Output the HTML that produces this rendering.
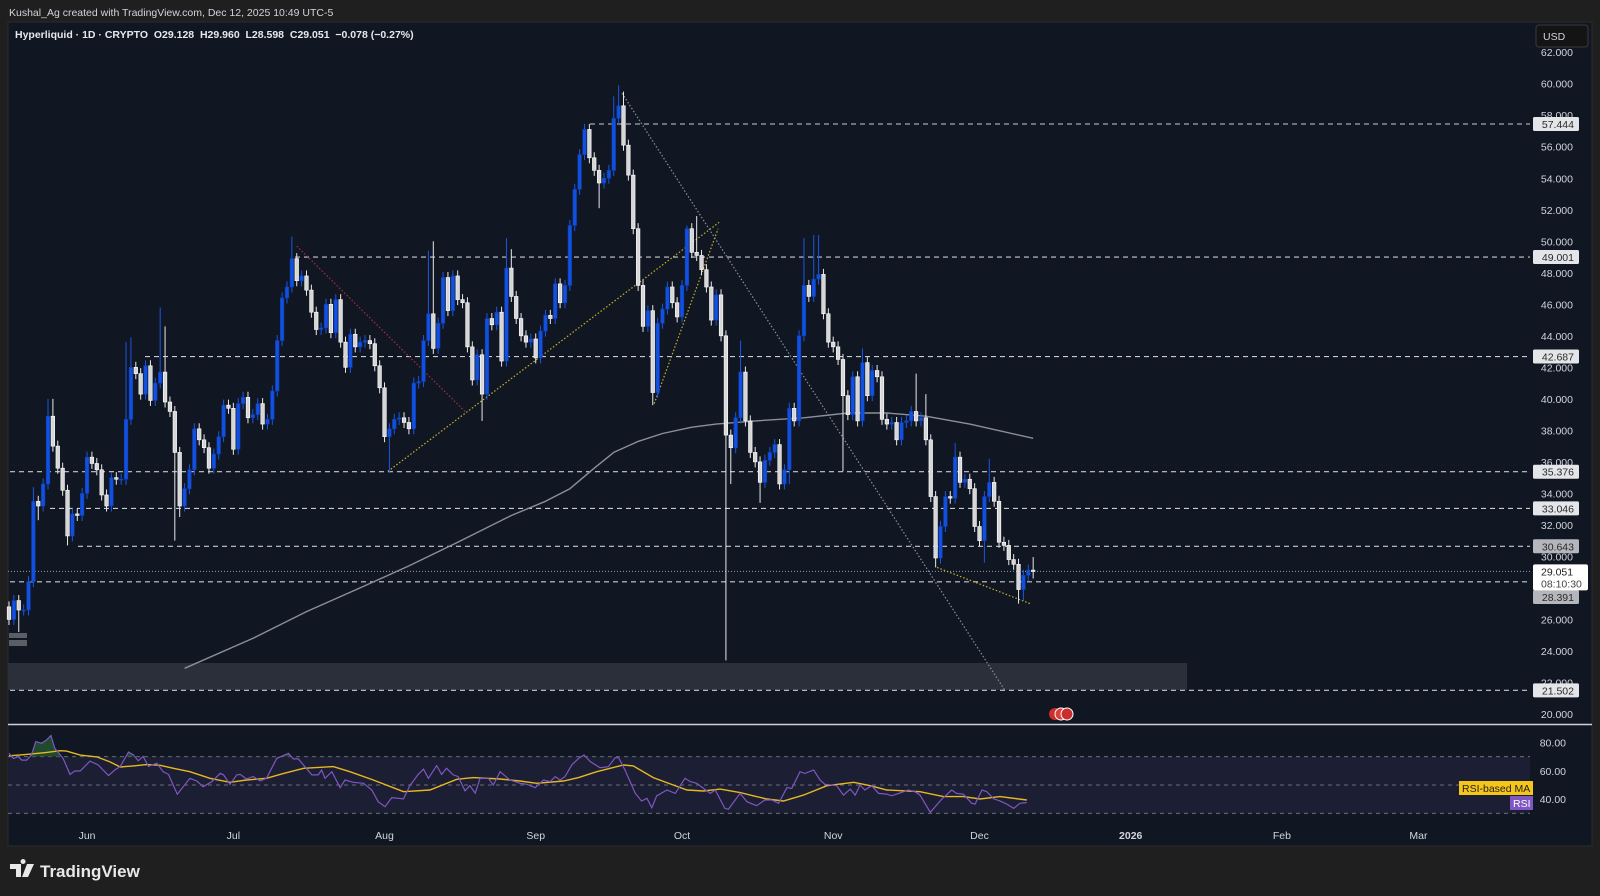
<!DOCTYPE html>
<html><head><meta charset="utf-8"><style>
html,body{margin:0;padding:0;background:#1f1f1f;width:1600px;height:896px;overflow:hidden}
svg{display:block;font-family:"Liberation Sans",sans-serif}
</style></head><body>
<svg id="chart" width="1600" height="896" viewBox="0 0 1600 896" xmlns="http://www.w3.org/2000/svg">
<rect x="0" y="0" width="1600" height="896" fill="#1f1f1f"/>
<text x="9" y="16" fill="#d1d4dc" font-size="10.5">Kushal_Ag created with TradingView.com, Dec 12, 2025 10:49 UTC-5</text>
<rect x="8" y="22" width="1584" height="824" fill="#111722" stroke="#2b2b2b"/>
<rect x="8" y="663" width="1179" height="27" fill="#2a2f3a"/>
<rect x="9" y="633" width="18" height="5" fill="#5a5e66"/>
<rect x="9" y="640" width="18" height="6" fill="#5a5e66"/>
<g id="grid"></g>
<g id="drawings"></g>
<g id="candles"></g>
<g id="axis"></g>
<g id="rsi"></g>
<text x="15" y="38" fill="#e6e8ee" font-size="10.5" font-weight="bold">Hyperliquid · 1D · CRYPTO&#160;&#160;O29.128&#160;&#160;H29.960&#160;&#160;L28.598&#160;&#160;C29.051&#160;&#160;−0.078 (−0.27%)</text>
<rect x="1536" y="25" width="52" height="22" rx="3" fill="#141414" stroke="#3a3a3a"/>
<text x="1543" y="40" fill="#d1d4dc" font-size="10.5">USD</text>
<line x1="8" y1="724.5" x2="1592" y2="724.5" stroke="#cfd2d8" stroke-width="1.5"/>
<g><circle cx="1055" cy="714" r="6" fill="#c9302c"/><circle cx="1061" cy="714" r="6" fill="#d9403a" stroke="#fff" stroke-width="1"/><circle cx="1067" cy="714" r="6" fill="#c9302c" stroke="#fff" stroke-width="1"/></g>
<g>
<path d="M10 864h11v13h-5v-8h-6z M23 864a2.5 2.5 0 1 1 0.1 0z M27 864h7l-6 13h-6z" fill="#e8e8e8"/>
<text x="40" y="877" fill="#e8e8e8" font-size="17" font-weight="bold">TradingView</text>
</g>
</svg>
<script>
// ---------- data ----------
const closes=[26.0,27.2,26.6,26.6,28.4,33.5,33.2,34.6,38.9,37.0,35.6,34.2,31.3,32.7,32.6,34.0,36.3,35.9,35.5,33.9,33.2,35.0,34.9,34.9,38.7,42.0,41.6,40.3,42.1,39.9,41.0,41.7,39.8,39.2,36.6,33.2,34.3,35.5,38.1,37.4,36.9,35.6,36.5,37.6,39.6,39.4,36.8,39.7,40.1,38.8,39.0,39.7,38.4,38.7,40.5,43.7,
46.4,47.1,48.9,47.5,47.8,46.9,45.5,44.4,44.5,46.0,44.2,46.3,43.6,42.0,44.1,43.3,43.6,43.7,43.5,42.1,40.7,37.6,38.1,38.7,38.8,38.5,38.1,41.0,41.1,43.7,45.4,43.2,44.8,47.7,45.6,47.8,46.3,46.1,43.3,41.2,42.8,40.3,45.1,44.7,45.5,42.4,48.3,46.5,45.1,44.0,43.6,43.8,42.6,44.3,45.3,
45.1,47.3,46.1,47.2,51.0,53.3,55.5,57.1,55.3,54.5,53.7,54.0,54.5,57.8,58.6,56.1,54.2,50.8,47.2,44.6,45.6,40.4,44.8,45.7,47.1,46.1,45.2,47.2,50.8,49.3,49.1,48.2,47.1,45.0,46.6,44.0,37.7,36.9,38.8,41.7,38.6,36.6,36.0,34.7,36.1,36.6,37.1,34.6,35.5,39.4,38.6,
44.0,47.2,46.5,47.6,47.9,45.4,43.6,43.3,42.5,40.2,39.0,41.4,38.6,42.3,40.2,41.8,41.4,38.7,38.4,38.5,37.4,38.5,38.6,39.2,38.6,38.8,37.4,33.8,29.9,31.9,33.8,33.7,36.3,34.7,34.9,34.3,31.9,31.0,33.8,34.7,33.5,30.9,30.7,29.8,29.5,27.9,28.8,29.13,29.051];
const firstOpen=26.8;
const highOverride={5:34.4,8:40.0,9:40.0,24:43.6,25:43.9,31:45.8,32:44.6,58:50.3,86:49.4,87:50.0,102:50.2,103:49.5,124:59.2,125:59.9,126:59.5,139:51.0,141:51.6,150:43.7,163:50.2,165:50.4,166:50.4,175:43.2,186:41.6,188:40.3,194:37.2,201:36.2,210:29.96};
const lowOverride={2:25.2,6:32.3,12:30.7,34:31.0,35:32.5,78:35.3,97:38.6,121:52.1,132:39.6,147:23.4,148:34.6,154:33.4,160:34.6,171:35.4,190:29.3,200:29.6,207:27.0,208:27.2,210:28.598};
const hLevels=[57.444,49.001,42.687,35.376,33.046,30.643,28.391,21.502];
const hLevelStart=[590,295,145,10,50,78,10,10];
const currentPrice=29.051;
const priceTicks=[62,60,58,56,54,52,50,48,46,44,42,40,38,36,34,32,30,28,26,24,22,20];
const monthLabels=["Jun","Jul","Aug","Sep","Oct","Nov","Dec","2026","Feb","Mar"];
const monthDays=[16,46,77,108,138,169,199,230,261,289];
const maDays=[36,50,61,72,82,92,103,110,115,120,124,129,134,140,145,153,163,172,180,188,197,210];
const maVals=[22.9,24.8,26.5,28.0,29.4,30.9,32.6,33.5,34.3,35.6,36.6,37.3,37.8,38.2,38.4,38.6,38.8,39.1,39.1,38.9,38.4,37.5];
const rsiDays=[0,0.9,1.9,2.6,3.6,4.6,5.5,6.7,7.7,8.6,9.4,11.1,12.5,13.5,14.6,16.6,18.3,20.4,21.7,22.8,24.5,25.5,26.5,27.5,28.6,30.3,31.6,32.7,34.5,37.1,38.5,39.8,41.6,43.3,44,45.3,46.7,47.4,48.7,50.1,51.5,52.8,54.9,57.3,58.3,59.3,62.1,63.4,64.1,64.8,66.2,67.9,68.9,70.6,72.7,74.4,75.7,77.1,78.5,80.9,82.2,83.9,85,86,87.7,88.7,89.7,91.1,92.1,93.5,94.5,95.6,96.6,98.3,99.3,100.7,102.7,104.8,106.2,107.9,109.6,111,112,113,114,115.4,116.8,117.9,119.2,121.2,122.9,124.3,125,126.3,128.4,129.7,130.8,131.8,132.8,134.9,136.6,138.6,139.7,141,142.4,143.8,144.8,146.8,147.5,149.9,151.3,153.3,155,156.4,157.8,159.5,160.5,162.2,163.2,165,166.3,167.3,168.7,169.7,171.1,172.5,173.5,174.5,175.5,176.9,178.3,180,181,182.4,184.4,185.8,186.8,188.9,191.3,193.3,194.3,195.7,197.4,198.1,199.5,200.5,201.9,203.2,204.6,206,207.3,208.7];
const rsiVals=[72.4,68.8,70,67.6,67.6,71.2,80.6,79.4,81.8,84.9,75.9,68.8,57.5,59.9,59.9,66.9,64.1,56.6,60.6,63,73.2,71.3,67.1,70.2,63.1,65.4,59.4,57.5,43.5,54.7,52.8,48.8,52.4,58.2,57.1,50.5,57.1,57.5,54.2,55.9,52.8,54.7,68.8,72.4,68.4,68.4,57.1,57.1,60.6,54.7,59.4,48.1,53.5,51.9,51.2,46.5,38.2,34.7,41.1,40.2,49.6,57.5,61.2,54.7,63.7,57.5,61.8,57.1,55.9,45.9,49.6,44.2,54.7,54.7,50,59.4,53.5,51.2,50.5,48.1,53.5,52.4,55.9,53.5,55.9,64.1,68.8,71.2,66.5,62.2,62.9,69.3,69.3,60.6,44.2,38.7,40.6,34,42.4,46.5,44.1,54.7,52.4,51.2,47.6,44.1,46.5,33.5,32.9,44.1,38.2,35.4,39.4,39.4,37.1,48.1,47.6,59.4,58.2,60.6,53.5,50.5,50,49.5,42.9,47.1,42.9,50,46.5,49.5,44.1,43.5,42.4,44.1,46.5,45.3,42.9,30.7,40.2,46.5,44.1,43.5,37.1,36.5,46.5,45.3,40.2,38.8,36.5,33.5,37.1,37.6];
const rsiMaDays=[0,3.6,7.7,10.5,11.8,14.6,18,20.7,22.8,25.5,28.2,31,33.7,37.1,41.2,45.3,48.7,52.8,56.3,60.4,66.5,69.9,74.7,80.9,86.3,91.8,95.2,100.7,104.8,108.2,113.7,116.8,120.5,126,128,132.1,136.2,139,142.4,145.8,149.9,152.6,155.4,158.8,162.9,167.7,173.2,176.6,180,186.8,191.6,195.7,199.1,203.2,208.7];
const rsiMaVals=[70.6,71.6,73,74.2,73.9,71.1,69.8,66.3,62.7,63.5,64.4,63.9,61.8,59.4,54.7,51.9,53.5,54.7,58.2,61.8,63,59.4,53.5,45.3,46.5,54,55.2,54.2,52.8,51.2,52.8,55.2,59.4,64.1,63.5,55.2,50,46.5,45.8,47.1,44.7,42.4,40.1,38.7,42.9,49.5,51.9,49.5,46.5,45.3,41.8,41.8,40.1,41.8,39.4];
const rsiTicks=[80,60,40];
const rsiBands=[70,50,30];
const trendLines=[
 {name:"red-downtrend",c:"#a0303a",p:[[59,49.7],[93.5,39.2]]},
 {name:"yellow-uptrend",c:"#c9b030",p:[[77.7,35.4],[145.6,51.2]]},
 {name:"yellow-steep-line",c:"#c9b030",p:[[132.3,39.7],[145.4,50.8]]},
 {name:"gray-downtrend",c:"#8a8f99",p:[[125.7,59.4],[204.2,21.5]]},
 {name:"yellow-dec-line",c:"#c9b030",p:[[190.3,29.3],[209.4,27.0]]}
];
// ---------- scales ----------
const NS="http://www.w3.org/2000/svg";
const xDay=d=>9+4.877*d;
const yP=v=>714-(v-20)*15.757;
const yR=v=>785-(v-50)*1.417;
function mk(tag,attrs,parent){const e=document.createElementNS(NS,tag);for(const k in attrs)e.setAttribute(k,attrs[k]);parent.appendChild(e);return e;}
const grid=document.getElementById('grid'),dr=document.getElementById('drawings'),cg=document.getElementById('candles'),ax=document.getElementById('axis'),rg=document.getElementById('rsi');
hLevels.forEach((v,i)=>{
 const l=mk('line',{x1:hLevelStart[i],x2:1530,y1:yP(v),y2:yP(v),stroke:'#c8cbd2','stroke-width':1.1,'stroke-dasharray':'5 4'},grid);
 
 
});
const cp=mk('line',{x1:8,x2:1532,y1:yP(currentPrice),y2:yP(currentPrice),stroke:'#9aa0aa','stroke-width':1,'stroke-dasharray':'1 2'},grid);


let d='';maDays.forEach((dd,i)=>{d+=(i?'L':'M')+xDay(dd).toFixed(1)+' '+yP(maVals[i]).toFixed(1);});
const ma=mk('path',{d:d,fill:'none',stroke:'#8b8f97','stroke-width':1.4,'stroke-linejoin':'round'},dr);


trendLines.forEach(t=>{
 const l=mk('line',{x1:xDay(t.p[0][0]),y1:yP(t.p[0][1]),x2:xDay(t.p[1][0]),y2:yP(t.p[1][1]),stroke:t.c,'stroke-width':1.2,'stroke-dasharray':'1.5 2'},dr);
 
 
});
closes.forEach((c,i)=>{
 const o=i?closes[i-1]:firstOpen;
 const up=c>=o;
 const hi=highOverride[i]!==undefined?highOverride[i]:Math.max(o,c)+0.35;
 const lo=lowOverride[i]!==undefined?lowOverride[i]:Math.min(o,c)-0.35;
 const x=xDay(i);
 const col=up?'#1250e0':'#d6d6d6';
 const g=mk('g',{},cg);
 
 
 mk('line',{x1:x,x2:x,y1:yP(hi),y2:yP(lo),stroke:up?'#1a55e8':'#e8e8e8','stroke-width':1},g);
 const top=yP(Math.max(o,c)),bot=yP(Math.min(o,c));
 mk('rect',{x:x-1.8,y:top,width:3.6,height:Math.max(1,bot-top),fill:col,stroke:up?'#0d3fb5':'#ffffff','stroke-width':0.6},g);
});
priceTicks.forEach(v=>{
 const t=mk('text',{x:1573,y:yP(v)+4,'text-anchor':'end',fill:'#d1d4dc','font-size':10.5},ax);
 t.textContent=v.toFixed(3);
 
 
});
hLevels.forEach(v=>{
 const dark=(v===30.643||v===28.391);
 const yy=(v===28.391)?597:yP(v);
 const g=mk('g',{},ax);
 
 
 mk('rect',{x:1533,y:yy-7,width:46,height:14,rx:1.5,fill:dark?'#b4b6bb':'#e4e5e8'},g);
 const t=mk('text',{x:1574,y:yy+4,'text-anchor':'end',fill:'#2a2a2a','font-size':10.5},g);
 t.textContent=v.toFixed(3);
});
{const g=mk('g',{},ax);
 
 
 const y=yP(currentPrice);
 mk('rect',{x:1533,y:y-7,width:55,height:26,rx:2,fill:'#ffffff'},g);
 const t1=mk('text',{x:1541,y:y+4,fill:'#222','font-size':10.5},g);t1.textContent=currentPrice.toFixed(3);
 const t2=mk('text',{x:1541,y:y+16,fill:'#444','font-size':10.5},g);t2.textContent='08:10:30';
}
monthLabels.forEach((m,i)=>{
 const t=mk('text',{x:xDay(monthDays[i]),y:839,'text-anchor':'middle',fill:'#d1d4dc','font-size':10.5,'font-weight':m==='2026'?'bold':'normal'},ax);
 t.textContent=m;
 
 
});
const band=mk('rect',{x:8,y:yR(70),width:1522,height:yR(30)-yR(70),fill:'#1c1e33'},rg);


rsiBands.forEach(v=>{
 const l=mk('line',{x1:8,x2:1530,y1:yR(v),y2:yR(v),stroke:'#6b6f7a','stroke-width':1,'stroke-dasharray':'4 4'},rg);
 
 
});
rsiTicks.forEach(v=>{
 const t=mk('text',{x:1566,y:yR(v)+4,'text-anchor':'end',fill:'#d1d4dc','font-size':10.5},rg);
 t.textContent=v.toFixed(2);
 
 
});
const defs=mk('defs',{},rg);
const cpth=mk('clipPath',{id:'ob'},defs);
mk('rect',{x:0,y:0,width:1600,height:yR(70)},cpth);
let rp='';rsiDays.forEach((dd,i)=>{rp+=(i?'L':'M')+xDay(dd).toFixed(1)+' '+yR(rsiVals[i]).toFixed(1);});
const fill=mk('path',{d:rp+'L'+xDay(rsiDays[rsiDays.length-1])+' '+yR(70)+'L'+xDay(0)+' '+yR(70)+'Z',fill:'#1f4a2e','clip-path':'url(#ob)'},rg);


let mp='';rsiMaDays.forEach((dd,i)=>{mp+=(i?'L':'M')+xDay(dd).toFixed(1)+' '+yR(rsiMaVals[i]).toFixed(1);});
const rm=mk('path',{d:mp,fill:'none',stroke:'#e6b822','stroke-width':1.4},rg);


const rl=mk('path',{d:rp,fill:'none',stroke:'#7e57c2','stroke-width':1.2},rg);


{const g=mk('g',{},rg);
 
 
 mk('rect',{x:1459,y:781,width:74,height:14,fill:'#f5c518'},g);
 const t=mk('text',{x:1462,y:792,fill:'#222','font-size':10.5},g);t.textContent='RSI-based MA';
 const g2=mk('g',{},rg);
 
 
 mk('rect',{x:1510,y:796,width:23,height:14,fill:'#7e57c2'},g2);
 const t2=mk('text',{x:1513,y:807,fill:'#fff','font-size':10.5},g2);t2.textContent='RSI';
}
</script>
</body></html>
